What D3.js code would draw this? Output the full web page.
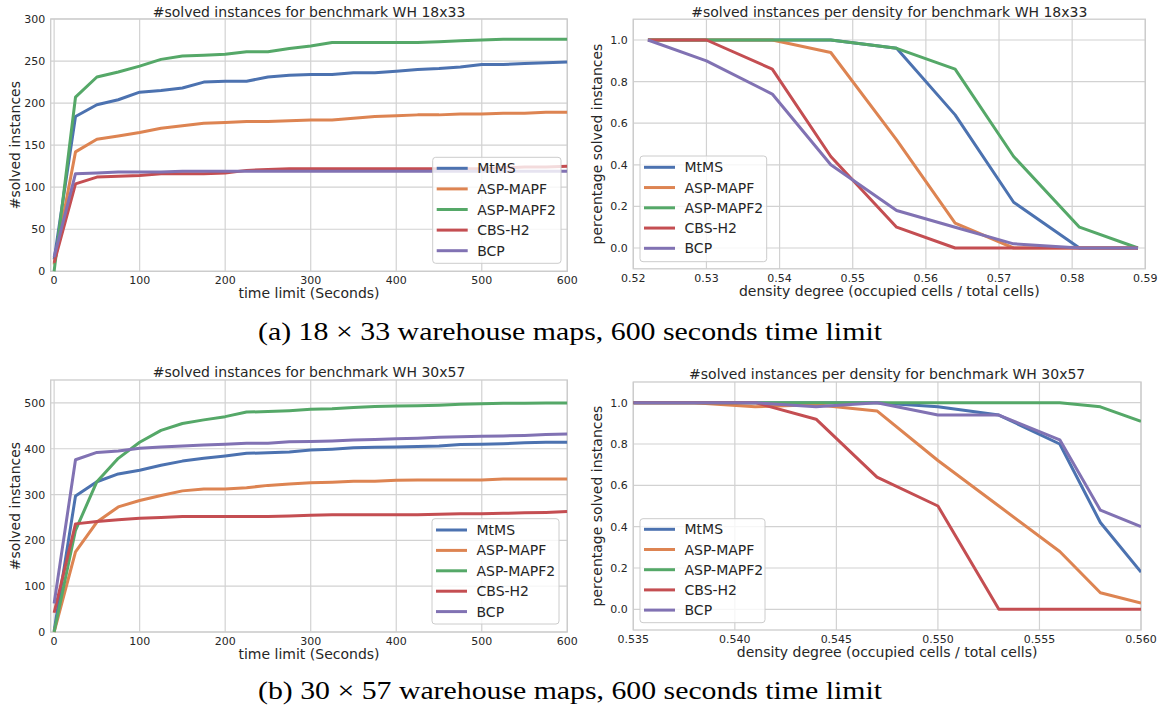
<!DOCTYPE html>
<html>
<head>
<meta charset="utf-8">
<script src="https://cdn.jsdelivr.net/npm/d3@7"></script>
<style>
  html, body { margin: 0; padding: 0; background: #ffffff; }
  svg { display: block; }
  text { font-family: "DejaVu Sans", sans-serif; fill: #262626; }
</style>
</head>
<body>
<svg id="chart" width="1168" height="715"></svg>
<script>
// ---------------- DATA ----------------
const seriesNames = ["MtMS", "ASP-MAPF", "ASP-MAPF2", "CBS-H2", "BCP"];
const seriesColors = ["#4C72B0", "#DD8452", "#55A868", "#C44E52", "#8172B3"];

// time limits (seconds)
const timeLimits = [0,25,50,75,100,125,150,175,200,225,250,275,300,325,350,375,400,425,450,475,500,525,550,575,600];

// WH 18x33 — solved instances vs time limit
const wh18_MtMS     = [14,184,198,204,213,215,218,225,226,226,231,233,234,234,236,236,238,240,241,243,246,246,247,248,249];
const wh18_ASPMAPF  = [8,142,157,161,165,170,173,176,177,178,178,179,180,180,182,184,185,186,186,187,187,188,188,189,189];
const wh18_ASPMAPF2 = [0,207,231,237,244,252,256,257,258,261,261,265,268,272,272,272,272,272,273,274,275,276,276,276,276];
const wh18_CBSH2    = [10,104,112,113,114,116,116,116,117,120,121,122,122,122,122,122,122,122,122,122,122,123,124,124,125];
const wh18_BCP      = [17,116,117,118,118,118,119,119,119,119,119,119,119,119,119,119,119,119,119,119,119,119,119,119,119];

// WH 18x33 — percentage solved per density
const density18 = [0.522,0.530,0.539,0.547,0.556,0.564,0.572,0.581,0.589];
const d18_MtMS     = [1.0,1.0,1.0,1.0,0.96,0.64,0.22,0.0,0.0];
const d18_ASPMAPF  = [1.0,1.0,1.0,0.94,0.52,0.12,0.0,0.0,0.0];
const d18_ASPMAPF2 = [1.0,1.0,1.0,1.0,0.96,0.86,0.44,0.10,0.0];
const d18_CBSH2    = [1.0,1.0,0.86,0.44,0.10,0.0,0.0,0.0,0.0];
const d18_BCP      = [1.0,0.90,0.74,0.40,0.18,0.10,0.02,0.0,0.0];

// WH 30x57 — solved instances vs time limit
const wh30_MtMS     = [2,297,328,345,353,364,373,379,384,390,391,393,397,399,402,403,404,405,406,409,410,411,413,414,414];
const wh30_ASPMAPF  = [0,175,240,273,287,298,308,312,312,315,320,323,326,327,329,329,331,332,332,332,332,334,334,334,334];
const wh30_ASPMAPF2 = [0,222,328,379,414,440,455,463,470,480,481,483,486,487,490,492,493,494,495,497,498,499,499,500,500];
const wh30_CBSH2    = [42,236,241,245,248,250,252,252,252,252,252,253,255,256,256,256,256,256,257,258,258,259,260,261,263];
const wh30_BCP      = [62,376,392,395,401,404,406,408,410,412,412,415,416,417,419,420,422,423,425,426,427,428,429,431,432];

// WH 30x57 — percentage solved per density
const density30 = [0.535,0.538,0.541,0.544,0.547,0.550,0.553,0.556,0.558,0.560];
const d30_MtMS     = [1.0,1.0,1.0,1.0,1.0,0.98,0.94,0.80,0.42,0.18];
const d30_ASPMAPF  = [1.0,1.0,0.98,0.99,0.96,0.72,0.50,0.28,0.08,0.03];
const d30_ASPMAPF2 = [1.0,1.0,1.0,1.0,1.0,1.0,1.0,1.0,0.98,0.91];
const d30_CBSH2    = [1.0,1.0,1.0,0.92,0.64,0.50,0.0,0.0,0.0,0.0];
const d30_BCP      = [1.0,1.0,1.0,0.98,1.0,0.94,0.94,0.82,0.48,0.40];

// tick values
const timeTicks = [0,100,200,300,400,500,600];
const yTicks18 = [0,50,100,150,200,250,300];
const yTicks30 = [0,100,200,300,400,500];
const pctTicks = [0.0,0.2,0.4,0.6,0.8,1.0];
const densTicks18 = [0.52,0.53,0.54,0.55,0.56,0.57,0.58,0.59];
const densTicks30 = [0.535,0.540,0.545,0.550,0.555,0.560];

const titles = [
  "#solved instances for benchmark WH 18x33",
  "#solved instances per density for benchmark WH 18x33",
  "#solved instances for benchmark WH 30x57",
  "#solved instances per density for benchmark WH 30x57"
];
const captions = [
  "(a) 18 \u00d7 33 warehouse maps, 600 seconds time limit",
  "(b) 30 \u00d7 57 warehouse maps, 600 seconds time limit"
];

// ---------------- DRAW ----------------
const svg = d3.select("#chart");
svg.append("rect").attr("width", 1168).attr("height", 715).attr("fill", "#fff");

function panel(cfg) {
  const g = svg.append("g");
  const x = d3.scaleLinear().domain(cfg.xDomain).range([cfg.left, cfg.right]);
  const y = d3.scaleLinear().domain(cfg.yDomain).range([cfg.bottom, cfg.top]);

  // grid
  g.selectAll(".vg").data(cfg.xTicks).enter().append("line")
    .attr("x1", d => x(d)).attr("x2", d => x(d))
    .attr("y1", cfg.top).attr("y2", cfg.bottom)
    .attr("stroke", "#d2d2d2").attr("stroke-width", 1.2);
  g.selectAll(".hg").data(cfg.yTicks).enter().append("line")
    .attr("y1", d => y(d)).attr("y2", d => y(d))
    .attr("x1", cfg.left).attr("x2", cfg.right)
    .attr("stroke", "#d2d2d2").attr("stroke-width", 1.2);
  // frame
  g.append("rect").attr("x", cfg.left).attr("y", cfg.top)
    .attr("width", cfg.right - cfg.left).attr("height", cfg.bottom - cfg.top)
    .attr("fill", "none").attr("stroke", "#cccccc").attr("stroke-width", 1.3);

  // tick labels
  g.selectAll(".xt").data(cfg.xTicks).enter().append("text")
    .attr("x", d => x(d)).attr("y", cfg.bottom + 12.7)
    .attr("text-anchor", "middle").attr("font-size", 11)
    .text(cfg.xFormat);
  g.selectAll(".yt").data(cfg.yTicks).enter().append("text")
    .attr("x", cfg.left - 5.5).attr("y", d => y(d) + 4)
    .attr("text-anchor", "end").attr("font-size", 11)
    .text(cfg.yFormat);

  // lines
  const clipId = "clip" + cfg.id;
  svg.append("clipPath").attr("id", clipId).append("rect")
    .attr("x", cfg.left).attr("y", cfg.top - 3)
    .attr("width", cfg.right - cfg.left).attr("height", cfg.bottom - cfg.top + 6);
  const line = d3.line().x(d => x(d[0])).y(d => y(d[1]));
  cfg.series.forEach((vals, i) => {
    g.append("path")
      .datum(cfg.xs.map((xv, j) => [xv, vals[j]]))
      .attr("d", line)
      .attr("fill", "none")
      .attr("stroke", seriesColors[i])
      .attr("stroke-width", 3)
      .attr("stroke-linejoin", "round")
      .attr("clip-path", `url(#${clipId})`);
  });

  // title
  g.append("text").attr("x", (cfg.left + cfg.right) / 2).attr("y", cfg.titleY)
    .attr("text-anchor", "middle").attr("font-size", 14).text(cfg.title);
  // axis labels
  g.append("text").attr("x", (cfg.left + cfg.right) / 2).attr("y", cfg.bottom + 26.7)
    .attr("text-anchor", "middle").attr("font-size", 14).text(cfg.xLabel);
  g.append("text")
    .attr("transform", `translate(${cfg.yLabelX},${(cfg.top + cfg.bottom) / 2}) rotate(-90)`)
    .attr("text-anchor", "middle").attr("font-size", 14).text(cfg.yLabel);

  // legend
  const L = cfg.legend;
  g.append("rect").attr("x", L.x).attr("y", L.y).attr("width", L.w).attr("height", L.h)
    .attr("rx", 3).attr("ry", 3)
    .attr("fill", "rgba(255,255,255,0.8)").attr("stroke", "#cccccc").attr("stroke-width", 1);
  seriesNames.forEach((name, i) => {
    const ry = L.rowY + i * L.rowH;
    g.append("line").attr("x1", L.x + 4).attr("x2", L.x + 35)
      .attr("y1", ry).attr("y2", ry)
      .attr("stroke", seriesColors[i]).attr("stroke-width", 3);
    g.append("text").attr("x", L.x + 44.5).attr("y", ry + 5)
      .attr("font-size", 14).text(name);
  });
}

const fmtInt = d3.format("d");
const fmt1 = d3.format(".1f");
const fmt2 = d3.format(".2f");
const fmt3 = d3.format(".3f");

panel({
  id: 1, left: 50.7, right: 567.3, top: 19, bottom: 271.3,
  xDomain: [-4, 600], yDomain: [0, 300],
  xTicks: timeTicks, yTicks: yTicks18, xFormat: fmtInt, yFormat: fmtInt,
  xs: timeLimits,
  series: [wh18_MtMS, wh18_ASPMAPF, wh18_ASPMAPF2, wh18_CBSH2, wh18_BCP],
  title: titles[0], titleY: 16.5,
  xLabel: "time limit (Seconds)", yLabel: "#solved instances", yLabelX: 20,
  legend: { x: 432.7, y: 157.3, w: 128.3, h: 106, rowY: 168.3, rowH: 20.6 }
});

panel({
  id: 2, left: 633.3, right: 1145.3, top: 19.2, bottom: 268.8,
  xDomain: [0.52, 0.59], yDomain: [-0.1, 1.1],
  xTicks: densTicks18, yTicks: pctTicks, xFormat: fmt2, yFormat: fmt1,
  xs: density18,
  series: [d18_MtMS, d18_ASPMAPF, d18_ASPMAPF2, d18_CBSH2, d18_BCP],
  title: titles[1], titleY: 16.5,
  xLabel: "density degree (occupied cells / total cells)", yLabel: "percentage solved instances", yLabelX: 601.5,
  legend: { x: 640, y: 156, w: 126.7, h: 105.7, rowY: 167.3, rowH: 20.25 }
});

panel({
  id: 3, left: 50.7, right: 567.3, top: 380, bottom: 632,
  xDomain: [-4, 600], yDomain: [0, 550],
  xTicks: timeTicks, yTicks: yTicks30, xFormat: fmtInt, yFormat: fmtInt,
  xs: timeLimits,
  series: [wh30_MtMS, wh30_ASPMAPF, wh30_ASPMAPF2, wh30_CBSH2, wh30_BCP],
  title: titles[2], titleY: 376.7,
  xLabel: "time limit (Seconds)", yLabel: "#solved instances", yLabelX: 20,
  legend: { x: 432, y: 518.7, w: 127, h: 105.3, rowY: 530, rowH: 20.4 }
});

panel({
  id: 4, left: 633.3, right: 1141, top: 382, bottom: 630,
  xDomain: [0.535, 0.560], yDomain: [-0.1, 1.1],
  xTicks: densTicks30, yTicks: pctTicks, xFormat: fmt3, yFormat: fmt1,
  xs: density30,
  series: [d30_MtMS, d30_ASPMAPF, d30_ASPMAPF2, d30_CBSH2, d30_BCP],
  title: titles[3], titleY: 379,
  xLabel: "density degree (occupied cells / total cells)", yLabel: "percentage solved instances", yLabelX: 601.5,
  legend: { x: 640, y: 518.7, w: 125, h: 104, rowY: 529.3, rowH: 20.2 }
});

// captions
svg.selectAll(".cap").data(captions).enter().append("text")
  .attr("x", 258).attr("y", (d, i) => i === 0 ? 339.5 : 699)
  .attr("textLength", 624).attr("lengthAdjust", "spacingAndGlyphs")
  .style("font-family", "'Liberation Serif', serif")
  .attr("font-size", 26).style("fill", "#000")
  .text(d => d);
</script>
</body>
</html>
